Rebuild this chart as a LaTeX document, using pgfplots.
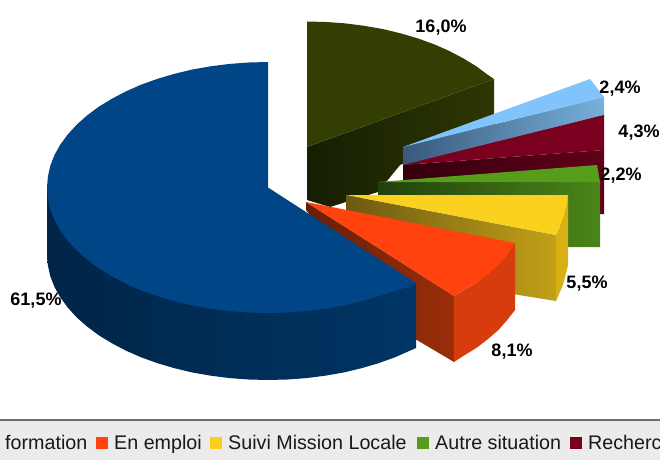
\documentclass[border=0pt]{standalone}
\usepackage{pgfplots}
\pgfplotsset{compat=1.18}
\usepackage{fontspec}
\setmainfont{Liberation Sans}
\definecolor{dg}{HTML}{333E03}\definecolor{dgA}{HTML}{161E03}\definecolor{dgB}{HTML}{2D3703}
\definecolor{lb}{HTML}{80C4FB}\definecolor{lbA}{HTML}{38597A}\definecolor{lbB}{HTML}{78B0DC}
\definecolor{mr}{HTML}{7A0020}\definecolor{mrA}{HTML}{33000C}\definecolor{mrB}{HTML}{620019}
\definecolor{gr}{HTML}{579D1C}\definecolor{grA}{HTML}{23400C}\definecolor{grB}{HTML}{4A8518}
\definecolor{ye}{HTML}{FBD120}\definecolor{yeA}{HTML}{6C5A12}\definecolor{yeB}{HTML}{C2A118}\definecolor{yeC}{HTML}{D8AF16}
\definecolor{or}{HTML}{FF420E}\definecolor{orA}{HTML}{6A1E05}\definecolor{orB}{HTML}{9A2E0A}\definecolor{orC}{HTML}{D63C0C}
\definecolor{bl}{HTML}{004586}\definecolor{blA}{HTML}{002547}\definecolor{blM}{HTML}{001C38}\definecolor{blB}{HTML}{003565}
\definecolor{band}{HTML}{EBEBEB}\definecolor{bandl}{HTML}{6E6E6E}
\tikzset{lab/.style={font=\fontsize{18}{20}\selectfont\bfseries,text=black,inner sep=0pt},
  leg/.style={font=\fontsize{19.7}{22}\selectfont,text=black!90,inner sep=0pt,anchor=base west}}
\begin{document}
\begin{tikzpicture}
\begin{axis}[width=660pt,height=460pt,scale only axis,hide axis,
  xmin=0,xmax=660,ymin=0,ymax=460,y dir=reverse,clip=true]
% page and legend band
\addplot[fill=white,draw=none] coordinates {(0,0)(660,0)(660,460)(0,460)};
\addplot[fill=band,draw=none] coordinates {(0,420)(660,420)(660,460)(0,460)};
\addplot[draw=bandl,line width=1.2pt] coordinates {(0,420)(660,420)};
% dark green
\addplot[left color=dgA,right color=dgB,draw=none] coordinates {(307,147)(494,79)(494,125)(400,165)(378,192)(330,207)(307,200)};
\addplot[fill=dg,draw=none] coordinates {(307,21.5)(326.2,22)(345.4,23.4)(364.2,25.8)(382.6,29)(400.5,33.3)(417.5,38.3)(433.9,44.2)(449.1,50.9)(463.2,58.3)(476.3,66.3)(488,75)(494,79)(307,147)};
% light blue
\addplot[left color=lbA,right color=lbB,draw=none] coordinates {(403,147)(604,97)(604,117)(403,167)};
\addplot[fill=lb,draw=none] coordinates {(403,147)(590,79)(604,97)};
% maroon
\addplot[left color=mrA,right color=mrB,draw=none] coordinates {(403,165)(604,150)(604,214)(597,214)(597,190)(403,190)};
\addplot[fill=mr,draw=none] coordinates {(403,165)(604,115)(604,150)};
% green
\addplot[left color=grA,right color=grB,draw=none] coordinates {(378,182)(600,182)(600,247)(560,247)(560,200)(378,200)};
\addplot[fill=gr,draw=none] coordinates {(378,182)(597,165)(600,182)};
% yellow
\addplot[left color=yeA,right color=yeB,draw=none] coordinates {(346,195)(556,235)(556,301)(500,292)(346,210)};
\addplot[fill=yeC,draw=none] coordinates {(556,235)(559.5,227.5)(563.7,216.8)(568,195)(568,265)(563,285)(556,301)};
\addplot[fill=ye,draw=none] coordinates {(346,195)(568,195)(566.5,205)(563.7,216.8)(559.5,227.5)(556,235)};
% orange
\addplot[left color=orA,right color=orB,draw=none] coordinates {(306,202)(454,296)(454,362)(400,330)(306,210)};
\addplot[fill=orC,draw=none] coordinates {(454,296)(463.2,290.7)(476.3,282.7)(488,274)(498.4,264.8)(507.2,255.1)(515,243)(515,310)(507.2,320)(498.4,330)(488,339)(476.3,348)(463.2,356)(454,362)};
\addplot[fill=or,draw=none] coordinates {(306,202)(515,243)(507.2,255.1)(498.4,264.8)(488,274)(476.3,282.7)(463.2,290.7)(454,296)};
% blue
\addplot[left color=blA,middle color=blM,right color=blB,draw=none] coordinates {(47,187.5)(47,254.5)(47.9,265.4)(50.3,276.3)(54.5,287)(60.3,297.4)(67.8,307.6)(76.6,317.3)(87,326.5)(98.7,335.2)(111.8,343.2)(125.9,350.6)(141.1,357.3)(157.5,363.2)(174.5,368.2)(192.4,372.5)(210.8,375.7)(229.6,378.1)(248.8,379.5)(268,380)(287.2,379.5)(306.4,378.1)(325.2,375.7)(343.6,372.5)(361.5,368.2)(378.5,363.2)(394.9,357.3)(416,348)(416,283)};
\addplot[fill=bl,draw=none] coordinates {(268,187.5)(268,62)(248.8,62.5)(229.6,63.9)(210.8,66.3)(192.4,69.5)(174.5,73.8)(157.5,78.8)(141.1,84.7)(125.9,91.4)(111.8,98.8)(98.7,106.8)(87,115.5)(76.6,124.8)(67.8,134.4)(60.3,144.6)(54.5,155)(50.3,165.7)(47.9,176.6)(47,187.5)(47.9,198.4)(50.3,209.3)(54.5,220)(60.3,230.4)(67.8,240.6)(76.6,250.3)(87,259.5)(98.7,268.2)(111.8,276.2)(125.9,283.6)(141.1,290.3)(157.5,296.2)(174.5,301.2)(192.4,305.5)(210.8,308.7)(229.6,311.1)(248.8,312.5)(268,313)(287.2,312.5)(306.4,311.1)(325.2,308.7)(343.6,305.5)(361.5,301.2)(378.5,296.2)(394.9,291)(410.1,286)(416,283)};
% labels
\node[lab] at (axis cs:441,28) {16,0\%};
\node[lab] at (axis cs:620,89) {2,4\%};
\node[lab] at (axis cs:639,133) {4,3\%};
\node[lab] at (axis cs:621,176) {2,2\%};
\node[lab] at (axis cs:587,284) {5,5\%};
\node[lab] at (axis cs:512,352) {8,1\%};
\node[lab] at (axis cs:36,301) {61,5\%};
% legend
\addplot[fill=or,draw=none] coordinates {(96,437)(108,437)(108,449)(96,449)};
\addplot[fill=ye!95!orange,draw=none] coordinates {(210,437)(222,437)(222,449)(210,449)};
\addplot[fill=gr,draw=none] coordinates {(417,437)(429,437)(429,449)(417,449)};
\addplot[fill=mr,draw=none] coordinates {(570,437)(582,437)(582,449)(570,449)};
\node[leg] at (axis cs:5,449) {formation};
\node[leg] at (axis cs:114,449) {En emploi};
\node[leg] at (axis cs:228,449) {Suivi Mission Locale};
\node[leg] at (axis cs:435,449) {Autre situation};
\node[leg] at (axis cs:588,449) {Recherc};
\end{axis}
\end{tikzpicture}
\end{document}
